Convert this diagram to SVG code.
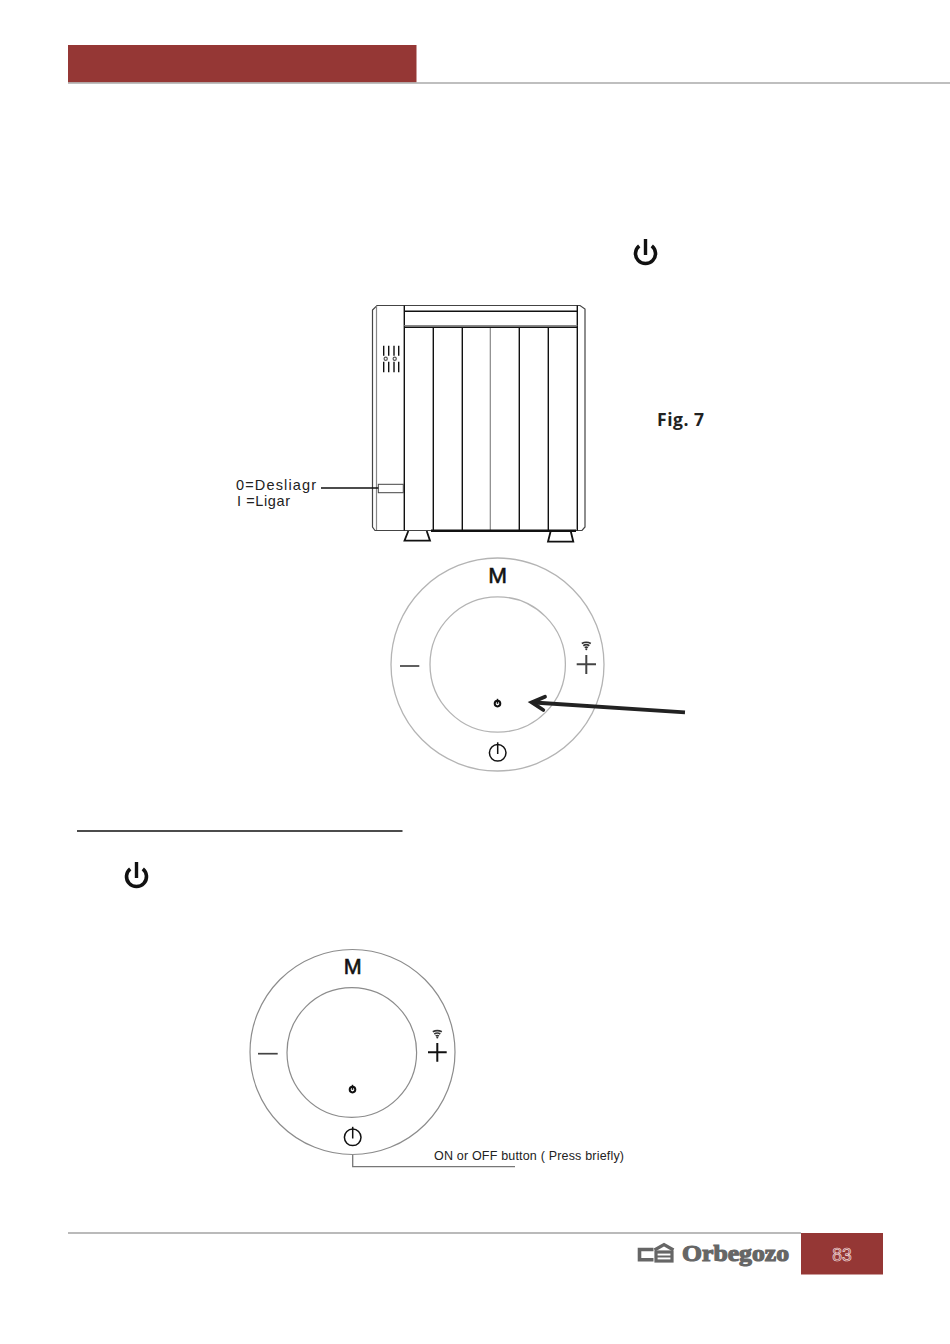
<svg xmlns="http://www.w3.org/2000/svg" width="950" height="1344" viewBox="0 0 950 1344">
<style>
.t{font-family:"Liberation Sans",Arial,sans-serif;fill:#222}
.m{font-family:"Liberation Sans",Arial,sans-serif;fill:#111;stroke:#111;stroke-width:.6}
.k{fill:none;stroke:#111;stroke-width:1.400}
.g{fill:none;stroke:#888;stroke-width:1.200}
.ring{fill:none;stroke:#b4b4b4;stroke-width:1.300}
.ring2{fill:none;stroke:#8c8c8c;stroke-width:1.200}
.p{fill:none;stroke:#111}
</style>
<defs>
<g id="wifi" fill="none" stroke="#333">
<path d="M-4.500-2.500Q0-5 4.500-2.500" stroke-width="1.700"/>
<path d="M-3-.3Q0-2.300 3-.3" stroke-width="1.700"/>
<path d="M-1.600 1.700Q0 .6 1.600 1.700" stroke-width="1.600"/>
<circle cx="0" cy="3.200" r="1" fill="#333" stroke="none"/>
</g>
<g id="tiny"><circle cx="0" cy=".6" r="2.800" fill="none" stroke="#111" stroke-width="2"/><path d="M0-4.200V.8" stroke="#111" stroke-width="1.500"/></g>
<g id="bigp"><circle cx="0" cy="0" r="8.300" class="p" stroke-width="1.500"/><path d="M0-10.500V1.200" class="p" stroke-width="1.500"/></g>
<g id="solid"><path d="M-6.300-8.200A10 10 0 1 0 6.300-8.200" fill="none" stroke="#111" stroke-width="3.600"/><path d="M0-15V1" stroke="#111" stroke-width="3.400"/></g>
</defs>

<g id="header">
<rect x="68" y="45" width="348.500" height="37.500" fill="#953735"/>
<path d="M68 83H950" stroke="#aaa" stroke-width="1.500"/>
</g>

<use id="power-icon-top" href="#solid" x="645.500" y="254"/>

<g id="heater">
<path d="M377 305.500H580L585 309V527L582 530.500H375L372.500 527V310Z" fill="none" stroke="#444" stroke-width="1.200"/>
<path class="g" d="M376.500 306V530"/>
<path class="k" d="M404.300 305.500V530.500M433.300 327.300V530.500M462.300 327.300V530.500M519.300 327.300V530.500M548.300 327.300V530.500M577.300 305.500V530.500"/>
<path class="g" d="M490.300 327.300V530.500M404.300 325.700H577.300"/>
<path class="k" d="M404.300 311.200H577.300M404.300 327.300H577.300"/>
<path d="M431 530.700H576" stroke="#111" stroke-width="2.600"/>
<path class="k" d="M383.700 345.700V355.700M388.700 345.700V355.700M394 345.700V355.700M398.700 345.700V355.700M383.700 361.700V372.300M388.700 361.700V372.300M394 361.700V372.300M398.700 361.700V372.300"/>
<circle cx="385.700" cy="358.700" r="1.600" fill="none" stroke="#555" stroke-width="1.200"/>
<circle cx="394.700" cy="358.700" r="1.600" fill="none" stroke="#555" stroke-width="1.200"/>
<rect x="378.300" y="484.300" width="25" height="8.400" fill="#fff" stroke="#444" stroke-width="1"/>
<path d="M408.300 531L404.500 540.700H430L426.700 531" fill="none" stroke="#111" stroke-width="1.800"/>
<path d="M550.700 531L548 541.700H573.300L570.700 531" fill="none" stroke="#111" stroke-width="1.800"/>
</g>

<g id="switch-label">
<text class="t" x="236" y="490" font-size="14.500" textLength="80">0=Desliagr</text>
<text class="t" x="237" y="505.500" font-size="14.500" textLength="53">I =Ligar</text>
</g>

<text id="fig-label" x="657" y="426" font-family="'Open Sans','Noto Sans',sans-serif" font-weight="700" font-size="17.500" textLength="47" fill="#222">Fig. 7</text>

<g id="panel-1">
<circle class="ring" cx="497.500" cy="664.500" r="106.500"/>
<circle class="ring" cx="497.700" cy="664.500" r="67.700"/>
<text class="m" x="497.700" y="583" font-size="22.500" text-anchor="middle">M</text>
<path d="M400 666H419.300" stroke="#444" stroke-width="1.700"/>
<path d="M576.700 664.300H596M586.300 655V674" stroke="#444" stroke-width="2"/>
<use href="#wifi" x="586.300" y="646"/>
<use href="#tiny" x="497.500" y="703"/>
<use href="#bigp" x="497.700" y="752.800"/>
</g>

<g id="connectors">
<path d="M321 488H378.300" stroke="#111" stroke-width="1.300" fill="none"/>
<path d="M685 712.300L534 702.500" stroke="#222" stroke-width="3.800" fill="none"/>
<path d="M545 696.700L531.700 702.400L543.300 710" stroke="#222" stroke-width="3.800" fill="none" stroke-linecap="round"/>
<path d="M352.700 1155V1166.700H515" stroke="#777" stroke-width="1.300" fill="none"/>
</g>

<path id="rule" d="M77 831H402.500" stroke="#111" stroke-width="1.500"/>

<use id="power-icon-mid" href="#solid" x="136.500" y="877"/>

<g id="panel-2">
<circle class="ring2" cx="352.500" cy="1052" r="102.500"/>
<circle class="ring2" cx="351.800" cy="1052.500" r="64.800"/>
<text class="m" x="352.700" y="974.300" font-size="21.500" text-anchor="middle">M</text>
<path d="M258 1053.700H277.700" stroke="#444" stroke-width="1.700"/>
<path d="M428 1052.300H446.700M437.300 1043V1061.700" stroke="#111" stroke-width="2"/>
<use href="#wifi" x="437.300" y="1034.300"/>
<use href="#tiny" x="352.500" y="1089"/>
<use href="#bigp" x="352.700" y="1137.300"/>
<text class="t" x="434" y="1160" font-size="12.500" textLength="190">ON or OFF button ( Press briefly)</text>
</g>

<g id="footer">
<path d="M68 1233H801" stroke="#777" stroke-width="1.200"/>
<rect x="801" y="1233" width="82" height="41.500" fill="#953735"/>
<text x="842" y="1260.500" font-family="'Liberation Sans',sans-serif" font-size="17.500" text-anchor="middle" fill="#953735" stroke="#f2dede" stroke-width=".7">83</text>
</g>

<g id="logo">
<path d="M653.500 1249.500H639.500V1259.800H653.500" fill="none" stroke="#666" stroke-width="3.600"/>
<path d="M654.500 1250L664 1244.500L673.500 1250" fill="none" stroke="#666" stroke-width="3.200"/>
<rect x="656" y="1252" width="16" height="9" fill="none" stroke="#666" stroke-width="3.200"/>
<path d="M656 1256.500H672" stroke="#666" stroke-width="2"/>
<text x="682" y="1261" font-family="'Liberation Serif',serif" font-weight="700" font-size="24" textLength="107" lengthAdjust="spacingAndGlyphs" fill="#666" stroke="#666" stroke-width="1.200">Orbegozo</text>
</g>
</svg>
